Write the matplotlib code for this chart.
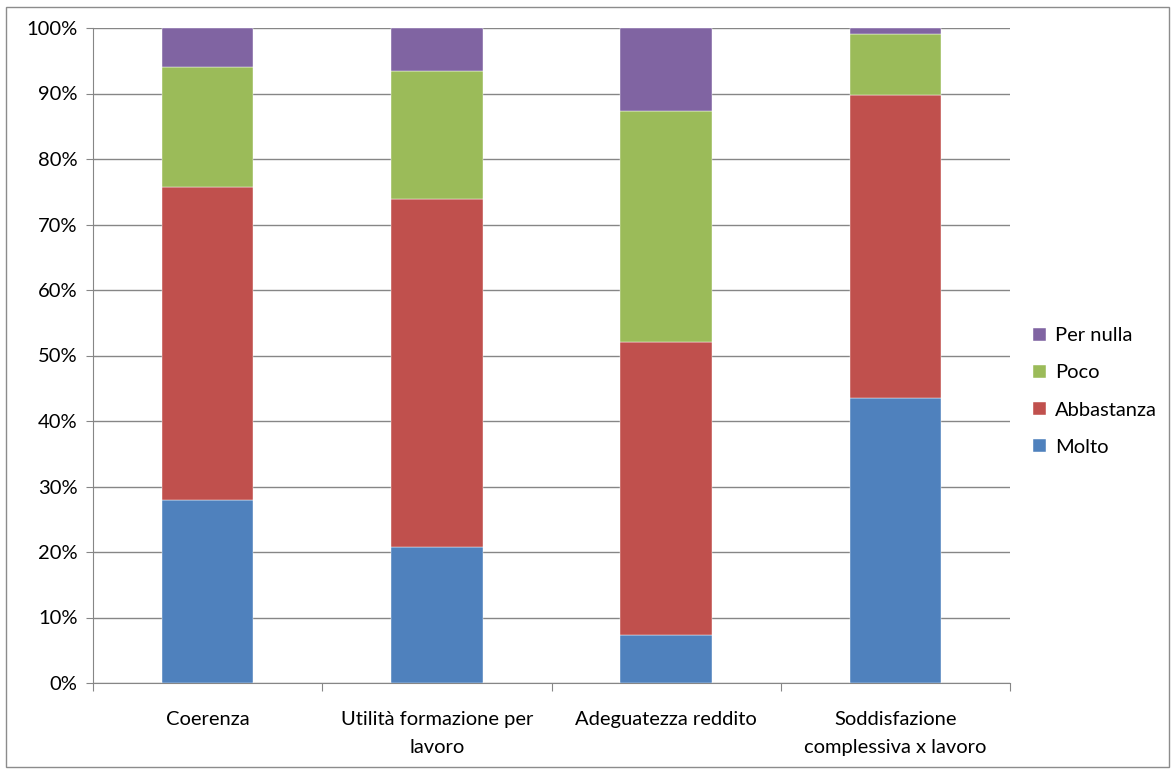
import numpy as np
import matplotlib.pyplot as plt
from matplotlib.patches import Rectangle

plt.rcParams['font.family'] = ['Lato', 'DejaVu Sans']

categorie = ['Coerenza', 'Utilità formazione per\nlavoro', 'Adeguatezza reddito',
             'Soddisfazione\ncomplessiva x lavoro']
serie = ['Molto', 'Abbastanza', 'Poco', 'Per nulla']
molto = [27.9, 20.8, 7.3, 43.5]
abbastanza = [47.8, 53.1, 44.8, 46.2]
poco = [18.3, 19.5, 35.3, 9.4]
per_nulla = [6.0, 6.6, 12.6, 0.9]
colori = ['#4F81BD', '#C0504D', '#9BBB59', '#8064A2']

fig = plt.figure(figsize=(11.71, 7.69), dpi=100)
ax = fig.add_axes([93 / 1171, 1 - 683 / 769, (1010 - 93) / 1171, (683 - 28) / 769])

# bordo esterno del grafico
fig.patches.append(Rectangle((6 / 1171, 2 / 769), 1163 / 1171, 760 / 769, transform=fig.transFigure,
                             fill=False, edgecolor='#8C8C8C', linewidth=1))

x = np.arange(len(categorie))
base = np.zeros(len(categorie))
for nome, valori, c in zip(serie, [molto, abbastanza, poco, per_nulla], colori):
    ax.bar(x, valori, width=0.4, bottom=base, color=c, label=nome, zorder=3,
           edgecolor='white', linewidth=0.3)
    base += np.array(valori)

ax.set_xlim(-0.5, 3.5)
ax.set_ylim(0, 100)
ax.set_yticks(np.arange(0, 101, 10))
ax.set_yticklabels([f'{v}%' for v in range(0, 101, 10)], fontsize=14.5)
ax.yaxis.grid(True, color='#868686', linewidth=1, zorder=0)
ax.tick_params(axis='y', length=5, color='#868686', pad=6)

ax.set_xticks(np.arange(-0.5, 4, 1))
ax.set_xticklabels([])
ax.tick_params(axis='x', length=6, color='#868686')
ax.set_xticks(x, minor=True)
ax.set_xticklabels(categorie, minor=True, fontsize=14.5, linespacing=1.78)
ax.tick_params(axis='x', which='minor', length=0, pad=20)

for s in ['top', 'right']:
    ax.spines[s].set_visible(False)
for s in ['left', 'bottom']:
    ax.spines[s].set_color('#868686')

h, l = ax.get_legend_handles_labels()
ax.legend(h[::-1], l[::-1], loc='center left', bbox_to_anchor=(1.005, 0.445), frameon=False,
          fontsize=14.5, handlelength=0.65, handleheight=0.65, labelspacing=1.0, handletextpad=0.45)

fig.savefig('out.png', dpi=100)
